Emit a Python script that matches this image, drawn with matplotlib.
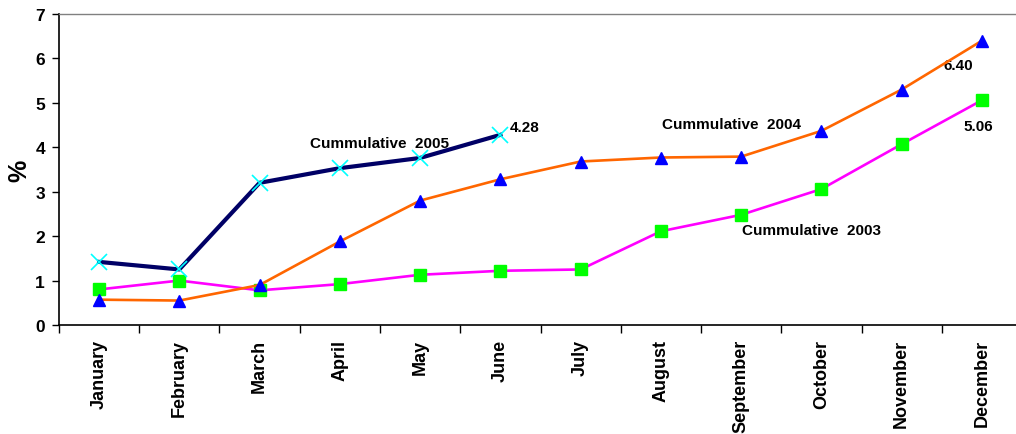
import matplotlib
matplotlib.use("Agg")
import matplotlib.pyplot as plt
import numpy as np

plt.rcParams['font.family'] = ['Liberation Sans', 'DejaVu Sans']

months = ["January", "February", "March", "April", "May", "June", "July",
          "August", "September", "October", "November", "December"]
cum_2003 = [0.80, 1.00, 0.78, 0.92, 1.13, 1.22, 1.25, 2.11, 2.48, 3.06, 4.07, 5.06]
cum_2004 = [0.57, 0.55, 0.90, 1.88, 2.80, 3.28, 3.68, 3.77, 3.79, 4.37, 5.30, 6.40]
cum_2005 = [1.42, 1.25, 3.20, 3.53, 3.76, 4.28]

fig = plt.figure(figsize=(10.16, 4.35), dpi=100)
ax = fig.add_axes([0.058, 0.2506, 0.948, 0.7149])

x = np.arange(len(months))
ax.plot(x, cum_2003, color="#FF00FF", lw=1.9, marker="s", ms=8.5,
        mfc="#00FF00", mec="#00FF00", zorder=3)
ax.plot(x, cum_2004, color="#FF6600", lw=1.9, marker="^", ms=9,
        mfc="#0000FF", mec="#0000FF", zorder=4)
ax.plot(x[:len(cum_2005)], cum_2005, color="#000066", lw=3.0, marker="x", ms=11,
        mec="#00FFFF", mew=1.2, zorder=5)

ax.set_xlim(-0.5, 11.5)
ax.set_ylim(0, 7)
ax.set_yticks(range(0, 8))
ax.set_xticks(x)
ax.set_xticklabels(months, rotation=90, fontsize=13, fontweight="bold", va="top")
ax.set_xticks(np.arange(-0.5, 12, 1), minor=True)
ax.tick_params(axis="x", which="major", length=0, pad=10)
ax.tick_params(axis="x", which="minor", length=6, direction="out", width=1)
ax.tick_params(axis="y", length=5, width=1, pad=5, labelsize=12.5)
for lab in ax.get_yticklabels():
    lab.set_fontweight("bold")
ax.set_ylabel("%", fontsize=18, fontweight="bold", labelpad=3)

for s in ["left", "bottom"]:
    ax.spines[s].set_color("black")
    ax.spines[s].set_linewidth(1.2)
for s in ["top", "right"]:
    ax.spines[s].set_color("#808080")
    ax.spines[s].set_linewidth(1.0)

kw = dict(fontsize=11, fontweight="bold", color="black")
ax.text(3.5, 4.10, "Cummulative  2005", ha="center", va="center", **kw)
ax.text(5.12, 4.46, "4.28", ha="left", va="center", **kw)
ax.text(7.88, 4.53, "Cummulative  2004", ha="center", va="center", **kw)
ax.text(8.88, 2.13, "Cummulative  2003", ha="center", va="center", **kw)
ax.text(10.7, 5.85, "6.40", ha="center", va="center", **kw)
ax.text(10.95, 4.47, "5.06", ha="center", va="center", **kw)

fig.savefig("out.png", dpi=100)
